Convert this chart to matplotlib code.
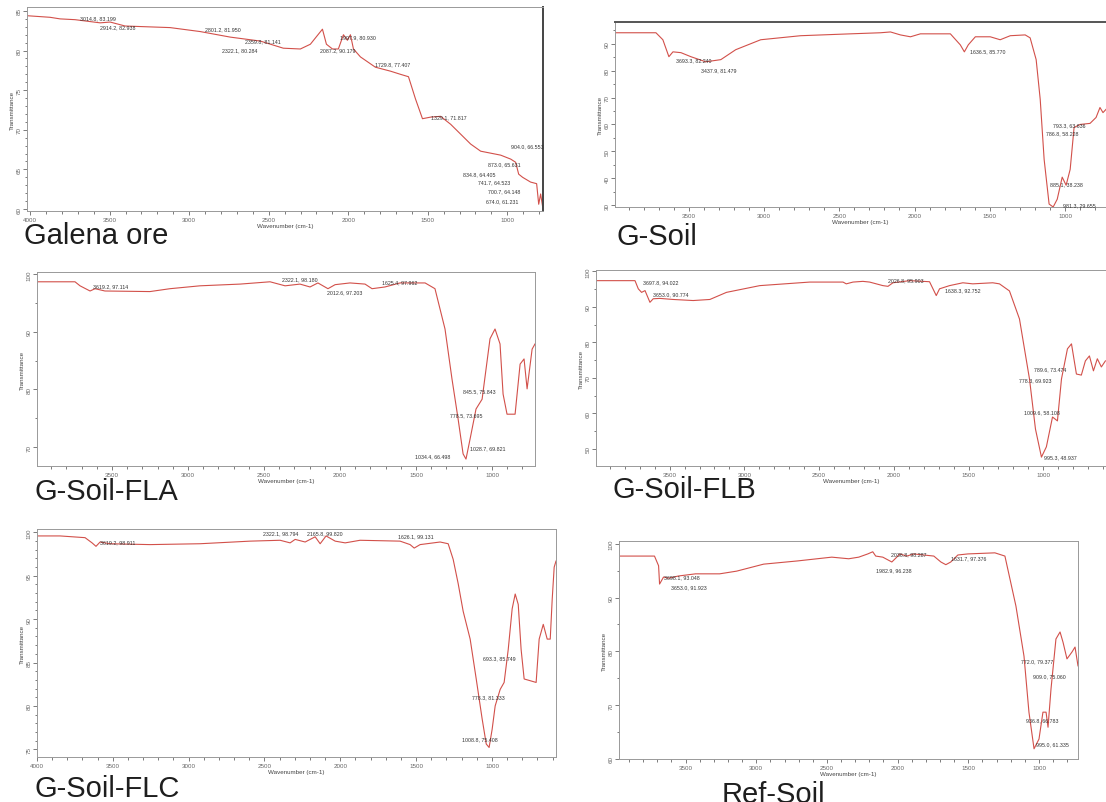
import numpy as np
import matplotlib
matplotlib.use('Agg')
import matplotlib.pyplot as plt
from matplotlib.ticker import MultipleLocator

plt.rcParams['font.family'] = ['Liberation Sans', 'DejaVu Sans']

W, H = 1106, 803

# ---- spectra (wavenumber cm-1, %T) ----
galena_wn = [4020, 3875, 3812, 3718, 3560, 3497, 3403, 3120, 2931, 2742, 2553, 2408, 2301, 2238,
             2162, 2137, 2099, 2062, 2030, 2005, 1986, 1967, 1923, 1829, 1734, 1671, 1621, 1577,
             1533, 1482, 1419, 1356, 1230, 1167, 1041, 978, 947, 928, 903, 853, 815, 802, 790, 775]
galena_t = [84.4, 84.2, 84.0, 83.9, 83.5, 83.6, 83.1, 82.9, 82.4, 81.7, 81.2, 80.3, 80.2, 80.8,
            82.7, 80.8, 80.2, 80.2, 82.0, 81.3, 82.0, 80.2, 79.2, 77.9, 77.4, 77.0, 76.7, 73.9,
            71.4, 71.6, 71.7, 70.7, 68.2, 67.3, 66.8, 66.3, 65.9, 64.4, 64.0, 63.4, 63.2, 60.6, 61.9, 60.0]

gsoil_wn = [3990, 3718, 3672, 3632, 3605, 3552, 3486, 3387, 3287, 3188, 3022, 2757, 2425, 2226,
            2160, 2094, 2027, 1961, 1762, 1696, 1669, 1643, 1596, 1497, 1431, 1364, 1265, 1232,
            1192, 1165, 1139, 1106, 1079, 1052, 1019, 993, 966, 940, 900, 834, 794, 768, 748, 728]
gsoil_t = [94.1, 94.1, 91.5, 85.2, 87.0, 86.7, 85.2, 83.3, 84.1, 87.8, 91.5, 93.0, 93.7, 94.1,
           94.4, 93.3, 92.6, 93.7, 93.7, 89.6, 87.0, 89.6, 92.6, 92.6, 91.5, 93.0, 93.3, 92.2,
           84.1, 69.3, 47.0, 30.4, 29.3, 32.2, 40.4, 37.4, 43.3, 58.9, 60.0, 60.4, 62.6, 66.3, 64.4, 65.6]

fla_wn = [3993, 3743, 3710, 3644, 3611, 3546, 3250, 3118, 2921, 2657, 2460, 2361, 2263, 2197,
          2145, 2079, 2032, 1934, 1835, 1789, 1704, 1605, 1440, 1375, 1309, 1263, 1223, 1190,
          1171, 1144, 1105, 1065, 1013, 980, 947, 927, 901, 848, 815, 789, 769, 736, 717]
fla_t = [98.7, 98.7, 98.0, 97.1, 97.5, 97.1, 97.0, 97.5, 98.0, 98.3, 98.7, 98.0, 98.3, 97.8,
         98.5, 97.5, 98.2, 98.5, 98.3, 97.5, 97.8, 98.5, 98.5, 97.5, 90.5, 81.8, 74.9, 68.8,
         67.9, 71.4, 76.6, 78.3, 88.8, 90.5, 87.9, 79.2, 75.7, 75.7, 84.4, 85.3, 80.1, 87.0, 87.9]

flb_wn = [3988, 3732, 3710, 3688, 3665, 3632, 3610, 3565, 3476, 3343, 3231, 3120, 2897, 2563,
          2340, 2318, 2273, 2207, 2162, 2073, 2039, 2006, 1894, 1761, 1716, 1694, 1627, 1538,
          1472, 1338, 1293, 1226, 1159, 1092, 1052, 1012, 979, 938, 905, 878, 838, 811, 778,
          745, 718, 691, 664, 638, 611, 584]
flb_t = [97.4, 97.4, 95.1, 94.1, 94.6, 91.3, 92.3, 92.4, 92.1, 91.8, 92.1, 94.1, 96.0, 97.0,
         97.0, 96.5, 97.0, 97.2, 97.0, 96.0, 95.8, 96.8, 97.4, 97.1, 93.2, 95.1, 96.0, 96.8,
         96.5, 96.8, 96.5, 94.5, 86.6, 69.7, 55.6, 47.7, 50.6, 59.0, 57.9, 69.7, 78.2, 79.6, 71.1,
         70.8, 74.8, 76.2, 72.0, 75.4, 73.1, 74.8]

flc_wn = [4000, 3848, 3683, 3637, 3611, 3584, 3518, 3255, 2925, 2595, 2397, 2331, 2298, 2232,
          2166, 2133, 2094, 2034, 1968, 1870, 1606, 1540, 1513, 1474, 1342, 1289, 1256, 1223,
          1190, 1144, 1104, 1065, 1038, 1019, 999, 979, 946, 920, 893, 867, 847, 827, 808, 788,
          748, 709, 689, 662, 636, 616, 603, 590, 578]
flc_t = [99.6, 99.6, 99.4, 98.8, 98.4, 98.9, 98.7, 98.6, 98.7, 99.0, 99.1, 98.8, 99.2, 98.9,
         99.5, 98.7, 99.6, 99.0, 98.8, 99.1, 99.0, 98.6, 98.2, 98.6, 98.9, 98.7, 96.9, 94.1,
         90.9, 87.7, 83.1, 78.5, 75.6, 75.2, 77.3, 80.0, 81.9, 82.7, 86.5, 91.2, 92.9, 91.7, 86.5,
         83.1, 82.9, 82.7, 87.7, 89.4, 87.7, 87.7, 92.3, 96.0, 96.7]

ref_wn = [3960, 3720, 3691, 3684, 3656, 3620, 3550, 3429, 3259, 3139, 2948, 2707, 2466, 2346,
          2275, 2211, 2176, 2155, 2105, 2041, 2006, 1985, 1935, 1886, 1744, 1694, 1659, 1624,
          1574, 1503, 1312, 1241, 1163, 1106, 1071, 1035, 1000, 972, 950, 936, 915, 880, 851,
          830, 802, 766, 745, 724]
ref_t = [97.7, 97.7, 95.9, 92.5, 93.8, 93.6, 94.0, 94.4, 94.4, 94.9, 96.2, 96.8, 97.5, 97.2,
         97.5, 98.1, 98.5, 97.7, 97.5, 96.6, 97.5, 98.1, 97.7, 98.1, 97.7, 96.6, 96.1, 96.6,
         97.9, 98.1, 98.3, 97.7, 88.4, 79.1, 68.7, 61.9, 63.7, 68.7, 68.7, 65.9, 73.0, 82.3, 83.6,
         81.7, 78.6, 79.9, 80.8, 77.3]

# ---- peak labels: (text, wn, %T where the text sits) ----
galena_peaks = [("3014.8, 83.199", 3686, 84.1), ("2914.2, 82.938", 3560, 83.0),
                ("2801.2, 81.950", 2899, 82.7), ("2359.8, 81.141", 2647, 81.2),
                ("2322.1, 80.284", 2792, 80.1), ("1997.9, 80.930", 2049, 81.8),
                ("2087.2, 90.179", 2175, 80.1), ("1729.8, 77.407", 1829, 78.3),
                ("1329.1, 71.817", 1482, 71.7), ("904.0, 66.553", 978, 68.0),
                ("873.0, 65.631", 1123, 65.7), ("834.8, 64.405", 1281, 64.5),
                ("741.7, 64.523", 1186, 63.4), ("700.7, 64.148", 1123, 62.3),
                ("674.0, 61.231", 1136, 61.1)]
gsoil_peaks = [("3693.3, 82.240", 3586, 84.1), ("3437.9, 81.479", 3420, 80.4),
               ("1636.5, 85.770", 1629, 87.4), ("793.3, 63.636", 1079, 60.0),
               ("786.8, 58.228", 1126, 57.0), ("885.1, 38.238", 1099, 38.1),
               ("981.3, 29.655", 1012, 30.0)]
fla_peaks = [("3619.2, 97.114", 3625, 98.0), ("2322.1, 98.180", 2381, 99.2),
             ("2012.6, 97.203", 2085, 97.0), ("1625.4, 97.962", 1723, 98.7),
             ("845.5, 75.843", 1190, 79.7), ("778.5, 73.695", 1276, 75.6),
             ("1034.4, 66.498", 1506, 68.4), ("1028.7, 69.821", 1144, 69.8)]
flb_peaks = [("3697.8, 94.022", 3679, 97.0), ("3653.0, 90.774", 3612, 93.7),
             ("2026.8, 95.903", 2041, 97.6), ("1638.3, 92.752", 1660, 94.8),
             ("789.6, 73.474", 1059, 72.5), ("778.3, 69.923", 1159, 69.4),
             ("1009.6, 58.108", 1126, 60.4), ("995.3, 48.937", 992, 47.7)]
flc_peaks = [("3619.2, 98.911", 3584, 98.9), ("2322.1, 98.794", 2509, 100.0),
             ("2165.8, 99.820", 2219, 100.0), ("1626.1, 99.131", 1620, 99.6),
             ("693.3, 85.749", 1058, 85.6), ("778.3, 81.333", 1131, 81.1),
             ("1008.8, 75.408", 1197, 76.2)]
ref_peaks = [("3698.1, 93.048", 3656, 93.8), ("3653.0, 91.923", 3600, 92.0),
             ("1982.9, 96.238", 2155, 95.1), ("2036.8, 98.287", 2045, 98.1),
             ("1631.7, 97.376", 1624, 97.4), ("772.0, 79.377", 1128, 78.2),
             ("909.0, 75.060", 1045, 75.4), ("936.8, 66.783", 1092, 67.2),
             ("995.0, 61.335", 1021, 62.8)]

panels = [
    dict(name='Galena ore', wn=galena_wn, t=galena_t, peaks=galena_peaks,
         box=(27, 543, 8, 212), xlim=(4020, 775), ylim=(59.75, 85.5), ymaj=5, ymin=1,
         title_xy=(24, 244)),
    dict(name='G-Soil', wn=gsoil_wn, t=gsoil_t, peaks=gsoil_peaks,
         box=(615, 1106, 23, 208), xlim=(3990, 728), ylim=(29.3, 98.1), ymaj=10, ymin=5,
         title_xy=(617, 245)),
    dict(name='G-Soil-FLA', wn=fla_wn, t=fla_t, peaks=fla_peaks,
         box=(37, 535, 273, 467), xlim=(3993, 717), ylim=(66.7, 100.4), ymaj=10, ymin=5,
         title_xy=(35, 500)),
    dict(name='G-Soil-FLB', wn=flb_wn, t=flb_t, peaks=flb_peaks,
         box=(596, 1106, 271, 467), xlim=(3993, 580), ylim=(45.2, 100.4), ymaj=10, ymin=5,
         title_xy=(613, 498)),
    dict(name='G-Soil-FLC', wn=flc_wn, t=flc_t, peaks=flc_peaks,
         box=(37, 556, 530, 758), xlim=(4000, 578), ylim=(74.1, 100.4), ymaj=5, ymin=1,
         title_xy=(35, 797)),
    dict(name='Ref-Soil', wn=ref_wn, t=ref_t, peaks=ref_peaks,
         box=(619, 1078, 542, 760), xlim=(3971, 724), ylim=(60, 100.5), ymaj=10, ymin=5,
         title_xy=(722, 803)),
]

fig = plt.figure(figsize=(W / 100, H / 100), dpi=100)
fig.patch.set_facecolor('white')

for p in panels:
    l, r, t, b = p['box']
    ax = fig.add_axes([l / W, 1 - b / H, (r - l) / W, (b - t) / H])
    ax.plot(p['wn'], p['t'], color='#d2504a', lw=0.8)
    ax.set_xlim(*p['xlim'])
    ax.set_ylim(*p['ylim'])
    ax.xaxis.set_major_locator(MultipleLocator(500))
    ax.xaxis.set_minor_locator(MultipleLocator(100))
    ax.yaxis.set_major_locator(MultipleLocator(p['ymaj']))
    ax.yaxis.set_minor_locator(MultipleLocator(p['ymin']))
    ax.tick_params(which='both', direction='out', colors='#666', labelsize=4.5,
                   width=0.6, pad=1)
    ax.tick_params(which='major', length=3)
    ax.tick_params(which='minor', length=1.8)
    ax.tick_params(axis='y', labelrotation=90)
    for lab in ax.get_yticklabels():
        lab.set_va('center')
    for s in ax.spines.values():
        s.set_color('#999')
        s.set_linewidth(0.7)
    ax.set_xlabel('Wavenumber (cm-1)', fontsize=4.5, color='#444', labelpad=1)
    ax.set_ylabel('Transmittance', fontsize=4.5, color='#444', labelpad=1)
    for txt, x, y in p['peaks']:
        ax.text(x, y, txt, fontsize=3.8, color='#333', ha='left', va='center')
    tx, ty = p['title_xy']
    fig.text(tx / W, 1 - ty / H, p['name'], fontsize=21, color='#1e1e1e',
             ha='left', va='baseline')
    if p['name'] == 'Galena ore':
        ax.spines['right'].set_color('#444')
        ax.spines['right'].set_linewidth(1.4)
    if p['name'] == 'G-Soil':
        ax.spines['top'].set_color('#555')
        ax.spines['top'].set_linewidth(1.4)

fig.savefig('out.png', dpi=100)
